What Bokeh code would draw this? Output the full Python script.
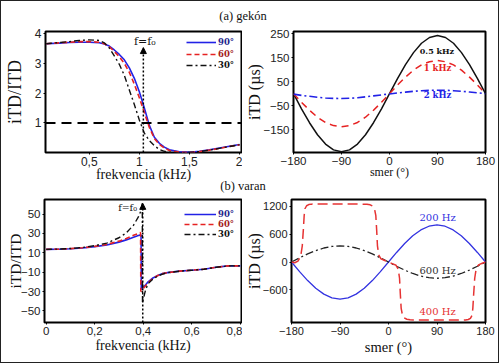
from bokeh.plotting import figure
from bokeh.models import (Range1d, FixedTicker, Label, Arrow, NormalHead, Span,
                          Legend, LegendItem, Div)
from bokeh.layouts import row, column
from bokeh.embed import file_html
from bokeh.resources import INLINE

# ---------------- (a) gekon, left panel: iTD/ITD vs frequency (kHz)
freq_a = [0.07, 0.2, 0.3, 0.4, 0.5, 0.6, 0.65, 0.7, 0.75, 0.8, 0.85, 0.9, 0.95, 1.0,
          1.05, 1.1, 1.15, 1.2, 1.25, 1.3, 1.4, 1.5, 1.6, 1.7, 1.8, 1.9, 2.0]
ratio_a_90 = [3.66, 3.68, 3.70, 3.71, 3.71, 3.69, 3.65, 3.58, 3.45, 3.30, 3.12, 2.85, 2.50, 2.05,
              1.50, 0.92, 0.52, 0.32, 0.19, 0.10, 0.03, 0.02, 0.05, 0.10, 0.16, 0.22, 0.28]
ratio_a_60 = [3.66, 3.69, 3.71, 3.73, 3.73, 3.71, 3.66, 3.56, 3.40, 3.22, 3.00, 2.70, 2.30, 1.85,
              1.35, 0.85, 0.48, 0.28, 0.16, 0.08, 0.02, 0.01, 0.04, 0.09, 0.15, 0.21, 0.27]
ratio_a_30 = [3.66, 3.70, 3.73, 3.77, 3.79, 3.77, 3.69, 3.52, 3.25, 2.97, 2.60, 2.11, 1.62, 1.10,
              0.66, 0.41, 0.24, 0.11, 0.05, 0.02, 0.00, 0.01, 0.04, 0.09, 0.15, 0.21, 0.27]
ref_level_a = 1.0
f0_a = 1.04
xticks_a = [0.5, 1, 1.5, 2]
xlabels_a = ["0,5", "1", "1,5", "2"]
yticks_a = [1, 2, 3, 4]
ylabels_a = ["1", "2", "3", "4"]

# ---------------- (a) gekon, right panel: iTD (us) vs direction
angles = [-180, -165, -150, -135, -120, -105, -90, -75, -60, -45, -30, -15, 0,
          15, 30, 45, 60, 75, 90, 105, 120, 135, 150, 165, 180]
itd_05k = [0, -63, -121, -171, -210, -234, -242, -234, -210, -171, -121, -63, 0,
           63, 121, 171, 210, 234, 242, 234, 210, 171, 121, 63, 0]
itd_1k = [0, -36, -69, -98, -120, -133, -138, -133, -120, -98, -69, -36, 0,
          36, 69, 98, 120, 133, 138, 133, 120, 98, 69, 36, 0]
itd_2k = [-2, -7, -11, -15, -18, -19.5, -20, -19, -17, -13, -9, -5, -1,
          3, 6.5, 10, 12.5, 14, 14.5, 14, 12.5, 10, 7, 3.5, 0]
ang_ticks = [-180, -90, 0, 90, 180]
ang_labels = ["\u2212180", "\u221290", "0", "90", "180"]
yticks_ar = [-150, -50, 50, 150, 250]
ylabels_ar = ["\u2212150", "\u221250", "50", "150", "250"]

# ---------------- (b) varan, left panel
b90_x = [0, 0.05, 0.1, 0.15, 0.2, 0.25, 0.3, 0.33, 0.36, 0.38, 0.391, 0.392,
         0.41, 0.42, 0.44, 0.46, 0.48, 0.5, 0.55, 0.6, 0.65, 0.7, 0.75, 0.8]
b90_y = [13.5, 13.7, 14.2, 15.0, 16.3, 18.0, 21.0, 23.3, 26.0, 27.8, 28.6, -28,
         -23, -20, -16, -13.5, -11.5, -10.5, -9, -8, -7, -5, -3.5, -3.5]
b60_x = [0, 0.05, 0.1, 0.15, 0.2, 0.25, 0.3, 0.33, 0.36, 0.38, 0.389, 0.390,
         0.41, 0.42, 0.44, 0.46, 0.48, 0.5, 0.55, 0.6, 0.65, 0.7, 0.75, 0.8]
b60_y = [13.5, 13.7, 14.3, 15.2, 16.6, 18.6, 22.0, 24.8, 28.0, 30.0, 31.0, -30,
         -24, -21, -16.5, -13.5, -11.5, -10.5, -9, -8, -7, -5, -3.5, -3.5]
b30_x = [0, 0.05, 0.1, 0.15, 0.2, 0.25, 0.3, 0.33, 0.36, 0.38, 0.39, 0.396, 0.397,
         0.405, 0.41, 0.42, 0.44, 0.46, 0.48, 0.5, 0.55, 0.6, 0.65, 0.7, 0.75, 0.8]
b30_y = [13.5, 13.8, 14.4, 15.5, 17.3, 20.0, 25.5, 30.5, 38.5, 47, 53, 61, -42,
         -33, -28, -22, -17, -14, -12, -10.5, -9, -8, -7, -5, -3.5, -3.5]
f0_b = 0.398
xticks_b = [0, 0.2, 0.4, 0.6, 0.8]
xlabels_b = ["0", "0,2", "0,4", "0,6", "0,8"]
yticks_b = [-50, -30, -10, 10, 30, 50]
ylabels_b = ["\u221250", "\u221230", "\u221210", "10", "30", "50"]

# ---------------- (b) varan, right panel
itd_200 = [0, -207, -400, -566, -693, -773, -800, -773, -693, -566, -400, -207, 0,
           207, 400, 566, 693, 773, 800, 773, 693, 566, 400, 207, 0]
itd_600 = [0, 91, 175, 247, 303, 338, 350, 338, 303, 247, 175, 91, 0,
           -91, -175, -247, -303, -338, -350, -338, -303, -247, -175, -91, 0]
ang_400 = [-180, -174, -168, -163, -160, -158, -156.5, -155, -152, -148, -143, -130, -100, -60,
           -40, -34, -29, -26, -23.5, -22, -20.5, -18, -14, -8, 0, 8, 14, 18, 20.5, 22, 23.5,
           26, 29, 34, 40, 60, 100, 130, 143, 148, 152, 155, 156.5, 158, 160, 163, 168, 174, 180]
itd_400 = [0, -15, 20, 120, 350, 700, 1000, 1150, 1215, 1240, 1250, 1252, 1252, 1252,
           1248, 1235, 1205, 1150, 1000, 700, 350, 150, 70, 40, 0, -40, -70, -150, -350, -700, -1000,
           -1150, -1205, -1235, -1248, -1252, -1252, -1252, -1250, -1240, -1215, -1150, -1000, -700,
           -350, -120, -55, -25, 0]
yticks_br = [-600, 0, 600, 1200]
ylabels_br = ["\u2212600", "0", "600", "1200"]

BLUE = "#2222e6"
RED = "#e62222"
BLACK = "#111111"
SERIF = "DejaVu Serif"
LSERIF = "Liberation Serif"
FW, FH = 197, 123


def base_fig(xr, yr, left, right, top, bottom, xt, xl, yt, yl, tick_size="11.5px"):
    p = figure(width=left + FW + right, height=top + FH + bottom,
               x_range=Range1d(*xr), y_range=Range1d(*yr),
               output_backend="svg", toolbar_location=None,
               min_border_left=left, min_border_right=right,
               min_border_top=top, min_border_bottom=bottom,
               background_fill_color="white", border_fill_color="white")
    p.grid.visible = False
    p.outline_line_color = "black"
    p.outline_line_width = 2
    p.outline_line_alpha = 1
    p.xaxis.ticker = FixedTicker(ticks=xt)
    p.xaxis.major_label_overrides = dict(zip(xt, xl))
    p.yaxis.ticker = FixedTicker(ticks=yt)
    p.yaxis.major_label_overrides = dict(zip(yt, yl))
    for ax in (p.xaxis[0], p.yaxis[0]):
        ax.axis_line_color = None
        ax.major_tick_in = 0
        ax.major_tick_out = 2
        ax.major_tick_line_color = "black"
        ax.minor_tick_line_color = None
        ax.major_label_text_font = "Liberation Sans"
        ax.major_label_text_font_size = tick_size
        ax.major_label_text_color = "#222222"
        ax.major_label_standoff = 2
        ax.axis_label_text_font = LSERIF
        ax.axis_label_text_font_style = "normal"
        ax.axis_label_text_color = "#111111"
    return p


def set_labels(p, xlabel, xsize, xstand, ylabel, ysize, ystand):
    p.xaxis.axis_label = xlabel
    p.xaxis.axis_label_text_font_size = xsize
    p.xaxis.axis_label_standoff = xstand
    p.yaxis.axis_label = ylabel
    p.yaxis.axis_label_text_font_size = ysize
    p.yaxis.axis_label_standoff = ystand


def add_text(p, text, x, y, size, color="#111111", style="normal", align="center"):
    p.add_layout(Label(x=x, y=y, text=text,
                       text_font=SERIF, text_font_size=size, text_color=color,
                       text_font_style=style, text_align=align, text_baseline="middle"))


def add_legend_row(p, r, label, color, x, y, gw):
    p.add_layout(Legend(items=[LegendItem(label=label, renderers=[r])],
                        location=(x, y), label_text_color=color,
                        label_text_font=SERIF, label_text_font_style="bold",
                        label_text_font_size="8.5px", glyph_width=gw, glyph_height=10,
                        label_height=10, label_standoff=2, padding=0, margin=0, spacing=0,
                        border_line_color=None, background_fill_alpha=0))


# ---------------- panel a-left
pa1 = base_fig((0.063, 2.02), (0.01, 4.07), 43, 1, 6, 30,
               xticks_a, xlabels_a, yticks_a, ylabels_a, tick_size="12px")
pa1.add_layout(Span(location=ref_level_a, dimension="width", line_color="black",
                    line_width=2, line_dash="10 6"))
ra90 = pa1.line(freq_a, ratio_a_90, line_color=BLUE, line_width=1.6)
ra60 = pa1.line(freq_a, ratio_a_60, line_color=RED, line_width=1.6, line_dash="5 3")
ra30 = pa1.line(freq_a, ratio_a_30, line_color=BLACK, line_width=1.4, line_dash="6 3 2 3")
pa1.add_layout(Arrow(end=NormalHead(size=6, fill_color="black", line_color="black", line_width=1),
                     x_start=f0_a, y_start=0.01, x_end=f0_a, y_end=3.53,
                     line_color="black", line_width=1.5, line_dash="2 2"))
add_text(pa1, "f=f\u2080", f0_a + 0.015, 3.72, "11px")
add_legend_row(pa1, ra90, "90°", "#23238c", 141, 104.7, 30)
add_legend_row(pa1, ra60, "60°", "#a32020", 141, 93.3, 30)
add_legend_row(pa1, ra30, "30°", "#111111", 141, 82.3, 30)
set_labels(pa1, "frekvencia (kHz)", "14px", -2, "iTD/ITD", "18px", 7)

# ---------------- panel a-right
pa2 = base_fig((-180, 180), (-245, 259), 46, 13, 6, 30,
               ang_ticks, ang_labels, yticks_ar, ylabels_ar)
pa2.line(angles, itd_05k, line_color=BLACK, line_width=1.5)
pa2.line(angles, itd_1k, line_color=RED, line_width=1.5, line_dash="7 5")
pa2.line(angles, itd_2k, line_color=BLUE, line_width=1.6, line_dash="8 3 2 3")
add_text(pa2, "0.5 kHz", 89, 177, "8px", color=BLACK, style="bold")
add_text(pa2, "1 kHz", 90, 106, "8.5px", color=RED, style="bold")
add_text(pa2, "2 kHz", 90, -5, "8.5px", color=BLUE, style="bold")
set_labels(pa2, "smer (°)", "12px", -3, "iTD (µs)", "16px", -2)

# ---------------- panel b-left
pb1 = base_fig((-0.007, 0.805), (-62, 65), 43, 1, 3, 40,
               xticks_b, xlabels_b, yticks_b, ylabels_b)
rb90 = pb1.line(b90_x, b90_y, line_color=BLUE, line_width=1.6)
rb60 = pb1.line(b60_x, b60_y, line_color=RED, line_width=1.6, line_dash="5 3")
rb30 = pb1.line(b30_x, b30_y, line_color=BLACK, line_width=1.4, line_dash="6 3 2 3")
pb1.add_layout(Arrow(end=NormalHead(size=6, fill_color="black", line_color="black", line_width=1),
                     x_start=f0_b, y_start=-62, x_end=f0_b, y_end=61,
                     line_color="black", line_width=1.5, line_dash="2 2"))
add_text(pb1, "f=f\u2080", 0.374, 57, "9.5px", align="right")
add_legend_row(pb1, rb90, "90°", "#23238c", 140, 103, 32)
add_legend_row(pb1, rb60, "60°", "#a32020", 140, 93, 32)
add_legend_row(pb1, rb30, "30°", "#111111", 140, 83, 32)
set_labels(pb1, "frekvencia (kHz)", "14px", 0, "iTD/ITD", "15.5px", -6)

# ---------------- panel b-right
pb2 = base_fig((-180, 180), (-1305, 1350), 46, 13, 3, 40,
               ang_ticks, ang_labels, yticks_br, ylabels_br, tick_size="11px")
pb2.line(angles, itd_200, line_color="#3333e0", line_width=1.3)
pb2.line(angles, itd_600, line_color="#222222", line_width=1.3, line_dash="8 3 2 3")
pb2.line(ang_400, itd_400, line_color="#e63333", line_width=1.5, line_dash="10 5")
add_text(pb2, "200 Hz", 91, 960, "10px", color="#3333e0")
add_text(pb2, "600 Hz", 91, -175, "10px", color="#333333")
add_text(pb2, "400 Hz", 91, -1060, "10px", color="#e63333")
set_labels(pb2, "smer (°)", "14.5px", 1, "iTD (µs)", "16px", -3)

title_style = ("width:484px;text-align:center;font-family:'Liberation Serif';font-size:12.5px;"
               "line-height:14px;color:#111;")
div_a = Div(text='<div style="%spadding-top:8px;">(a) gekón</div>' % title_style,
            width=497, height=24, margin=0)
div_b = Div(text='<div style="%sposition:relative;top:-6px;">(b) varan</div>' % title_style,
            width=497, height=12, margin=0)

layout = column(div_a, row(pa1, pa2), div_b, row(pb1, pb2),
                styles={"position": "absolute", "left": "1px", "top": "1px",
                        "outline": "1.5px solid #222", "background": "white"})

open("out.html", "w").write(file_html(layout, INLINE))
